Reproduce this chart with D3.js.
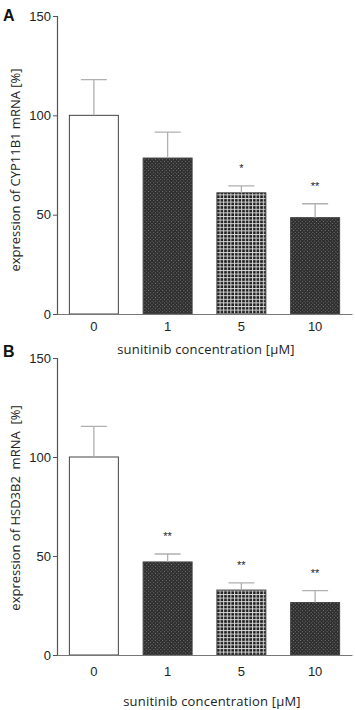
<!DOCTYPE html>
<html>
<head>
<meta charset="utf-8">
<script src="https://cdn.jsdelivr.net/npm/d3@7"></script>
<style>
  body { margin: 0; background: #fff; }
  svg { display: block; }
</style>
</head>
<body>
<script>
// data
const concentrations = ["0", "1", "5", "10"];
const cypMeans = [100, 78.5, 61, 48.5];
const cypErrors = [18, 13, 3.5, 7];
const cypStars = ["", "", "*", "**"];
const hsdMeans = [100, 47, 32.8, 26.5];
const hsdErrors = [15.5, 4, 3.6, 6];
const hsdStars = ["", "**", "**", "**"];
const yTicks = [0, 50, 100, 150];
const barFills = ["#fff", "url(#hatch)", "url(#grid)", "url(#hatch)"];

const width = 355, height = 710;

const svg = d3.select("body").append("svg")
    .attr("width", width)
    .attr("height", height);

// fill patterns
const defs = svg.append("defs");
const hatch = defs.append("pattern")
    .attr("id", "hatch")
    .attr("width", 2.5).attr("height", 2.5)
    .attr("patternUnits", "userSpaceOnUse")
    .attr("patternTransform", "rotate(45)");
hatch.append("rect").attr("width", 2.5).attr("height", 2.5).attr("fill", "#2c2c2c");
hatch.append("rect").attr("width", 1).attr("height", 1).attr("fill", "#808080");

const grid = defs.append("pattern")
    .attr("id", "grid")
    .attr("width", 3.6).attr("height", 3.6)
    .attr("patternUnits", "userSpaceOnUse");
grid.append("rect").attr("width", 3.6).attr("height", 3.6).attr("fill", "#1e1e1e");
grid.append("rect").attr("width", 3.6).attr("height", 1).attr("fill", "#d8d8d8");
grid.append("rect").attr("width", 1).attr("height", 3.6).attr("fill", "#d8d8d8");

const x = d3.scaleBand()
    .domain(concentrations)
    .range([57, 352])
    .paddingInner(0.336)
    .paddingOuter(0.168);

function drawPanel(opts) {
    const y = d3.scaleLinear().domain([0, 150]).range([opts.y0, opts.y150]);
    const g = svg.append("g");

    // bars
    g.selectAll(".bar")
        .data(opts.means)
        .join("rect")
        .attr("x", (d, i) => x(concentrations[i]))
        .attr("y", d => y(d))
        .attr("width", x.bandwidth())
        .attr("height", d => y(0) - y(d))
        .attr("fill", (d, i) => barFills[i])
        .attr("stroke", "#444")
        .attr("stroke-width", 1);

    // error bars
    const capW = 26;
    g.selectAll(".err")
        .data(opts.means)
        .join("path")
        .attr("d", (d, i) => {
            const cx = x(concentrations[i]) + x.bandwidth() / 2;
            const top = y(d + opts.errors[i]);
            return "M" + cx + "," + y(d) + "V" + top +
                "M" + (cx - capW / 2) + "," + top + "H" + (cx + capW / 2);
        })
        .attr("fill", "none")
        .attr("stroke", "#b0b0b0")
        .attr("stroke-width", 1.3);

    // significance stars
    g.selectAll(".star")
        .data(opts.stars)
        .join("text")
        .attr("x", (d, i) => x(concentrations[i]) + x.bandwidth() / 2)
        .attr("y", (d, i) => y(opts.means[i] + opts.errors[i]) - 14)
        .attr("text-anchor", "middle")
        .attr("font-family", "Liberation Sans, Arial, sans-serif")
        .attr("font-size", 11)
        .attr("fill", "#222")
        .text(d => d);

    // y axis
    const yAxis = g.append("g")
        .attr("transform", "translate(57,0)")
        .call(d3.axisLeft(y).tickValues(yTicks).tickSize(4).tickPadding(2));
    yAxis.select(".domain").attr("stroke", "#555").attr("stroke-width", 1.2);
    yAxis.selectAll(".tick line").attr("stroke", "#555");
    yAxis.selectAll("text")
        .attr("font-family", "Liberation Sans, Arial, sans-serif")
        .attr("font-size", 13)
        .attr("fill", "#222");

    // x axis
    const xAxis = g.append("g")
        .attr("transform", "translate(0," + y(0) + ")")
        .call(d3.axisBottom(x).tickSize(0).tickPadding(opts.tickPad));
    xAxis.select(".domain").attr("stroke", "#777").attr("stroke-width", 1.2);
    xAxis.selectAll("text")
        .attr("font-family", "Liberation Sans, Arial, sans-serif")
        .attr("font-size", 13)
        .attr("fill", "#222");

    // axis titles
    g.append("text")
        .attr("x", opts.xTitleX)
        .attr("y", y(0) + opts.xTitleOff)
        .attr("text-anchor", "middle")
        .attr("font-family", "Open Sans, sans-serif")
        .attr("font-size", 13)
        .attr("letter-spacing", 0.2)
        .attr("fill", "#222")
        .attr("xml:space", "preserve")
        .text(opts.xTitle);

    g.append("text")
        .attr("transform", "translate(20," + opts.yTitleY + ") rotate(-90)")
        .attr("text-anchor", "middle")
        .attr("font-family", "Open Sans, sans-serif")
        .attr("font-size", 13)
        .attr("fill", "#222")
        .attr("xml:space", "preserve")
        .text(opts.yTitle);

    // panel letter
    g.append("text")
        .attr("x", 3)
        .attr("y", opts.letterY)
        .attr("font-family", "Liberation Sans, Arial, sans-serif")
        .attr("font-weight", "bold")
        .attr("font-size", 16)
        .attr("fill", "#111")
        .text(opts.letter);
}

drawPanel({
    y0: 314, y150: 16,
    means: cypMeans, errors: cypErrors, stars: cypStars,
    yTitle: "expression of CYP11B1 mRNA [%]", yTitleY: 170,
    xTitle: "sunitinib concentration [µM]",
    xTitleX: 206, xTitleOff: 40, tickPad: 8,
    letter: "A", letterY: 21
});

drawPanel({
    y0: 655, y150: 358,
    means: hsdMeans, errors: hsdErrors, stars: hsdStars,
    yTitle: "expression of HSD3B2  mRNA  [%]", yTitleY: 508,
    xTitle: "sunitinib concentration [µM]",
    xTitleX: 212, xTitleOff: 51, tickPad: 12,
    letter: "B", letterY: 357
});
</script>
</body>
</html>
